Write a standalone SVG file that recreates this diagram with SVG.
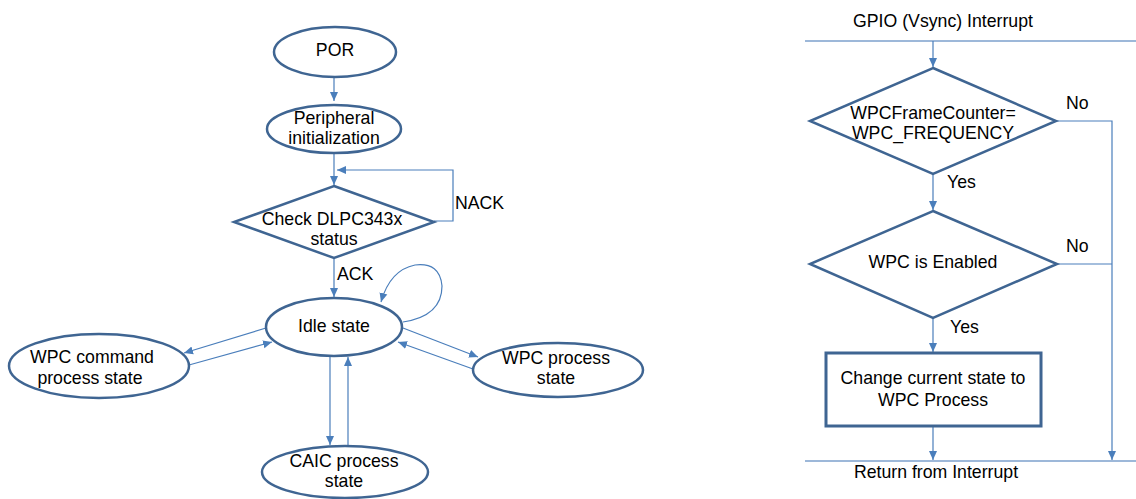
<svg xmlns="http://www.w3.org/2000/svg" width="1136" height="499" viewBox="0 0 1136 499">
<defs>
<marker id="ah" markerUnits="userSpaceOnUse" markerWidth="10" markerHeight="10" viewBox="0 0 10 10" refX="9" refY="5" orient="auto">
<path d="M0,1 L9,5 L0,9 Z" fill="#4a7ebb"/>
</marker>
<style>
.shape{fill:#ffffff;stroke:#3f6592;stroke-width:2.5}
.box{fill:#ffffff;stroke:#3f6592;stroke-width:3}
.con{fill:none;stroke:#4a7ebb;stroke-width:1.2}
.rail{fill:none;stroke:#7da0cc;stroke-width:1.5}
text{font-family:"Liberation Sans",Arial,sans-serif;font-size:17.7px;fill:#000000;text-anchor:middle;dominant-baseline:central}
.lbl{text-anchor:start}
</style>
</defs>
<rect width="1136" height="499" fill="#ffffff"/>

<g id="connectors">
<path class="con" d="M334,78 L334,101" marker-end="url(#ah)"/>
<path class="con" d="M334,153 L334,185" marker-end="url(#ah)"/>
<path class="con" d="M434,221 L453,221 L453,170 L337,170" marker-end="url(#ah)"/>
<path class="con" d="M334,258 L334,297" marker-end="url(#ah)"/>
<path class="con" d="M403,322 Q442,316 442,286 Q440,262 415,265 Q390,270 381,302" marker-end="url(#ah)"/>
<path class="con" d="M266,328 L184,353" marker-end="url(#ah)"/>
<path class="con" d="M189,365 L272,342" marker-end="url(#ah)"/>
<path class="con" d="M403,328 L478,357" marker-end="url(#ah)"/>
<path class="con" d="M473,369 L398,342" marker-end="url(#ah)"/>
<path class="con" d="M330,356 L330,445" marker-end="url(#ah)"/>
<path class="con" d="M348,446 L348,357" marker-end="url(#ah)"/>

<path class="rail" d="M805,41 L1136,41"/>
<path class="rail" d="M805,461 L1136,461"/>
<path class="con" d="M933,41 L933,67" marker-end="url(#ah)"/>
<path class="con" d="M933,174 L933,210" marker-end="url(#ah)"/>
<path class="con" d="M933,318 L933,352" marker-end="url(#ah)"/>
<path class="con" d="M933,426 L933,460" marker-end="url(#ah)"/>
<path class="con" d="M1056,121 L1112,121 L1112,460" marker-end="url(#ah)"/>
<path class="con" d="M1057,264 L1112,264"/>
</g>

<g id="labels">
<text class="lbl" x="455" y="203">NACK</text>
<text class="lbl" x="337" y="274">ACK</text>
<text x="943" y="21">GPIO (Vsync) Interrupt</text>
<text x="936" y="472">Return from Interrupt</text>
<text class="lbl" x="1066" y="103">No</text>
<text class="lbl" x="1066" y="246">No</text>
<text class="lbl" x="947" y="182">Yes</text>
<text class="lbl" x="950" y="327">Yes</text>
</g>

<g id="por">
<ellipse class="shape" cx="335" cy="52" rx="61" ry="25"/>
<text x="335" y="50">POR</text>
</g>

<g id="peripheral">
<ellipse class="shape" cx="334" cy="129" rx="67" ry="24"/>
<text x="334" y="118">Peripheral</text>
<text x="334" y="138">initialization</text>
</g>

<g id="check">
<polygon class="shape" points="334,186 434,222 334,258 234,222"/>
<text x="332" y="219">Check DLPC343x</text>
<text x="334" y="239">status</text>
</g>

<g id="idle">
<ellipse class="shape" cx="334" cy="327" rx="68" ry="29"/>
<text x="334" y="326">Idle state</text>
</g>

<g id="wpc-command">
<ellipse class="shape" cx="99" cy="366" rx="90" ry="32"/>
<text x="92" y="357">WPC command</text>
<text x="90" y="378">process state</text>
</g>

<g id="wpc-process">
<ellipse class="shape" cx="558" cy="370" rx="85" ry="27"/>
<text x="556" y="358">WPC process</text>
<text x="556" y="378">state</text>
</g>

<g id="caic">
<ellipse class="shape" cx="345" cy="472" rx="83" ry="26"/>
<text x="344" y="461">CAIC process</text>
<text x="344" y="481">state</text>
</g>

<g id="frame-counter">
<polygon class="shape" points="933,68 1056,121 933,174 810,121"/>
<text x="933" y="113">WPCFrameCounter=</text>
<text x="933" y="133">WPC_FREQUENCY</text>
</g>

<g id="wpc-enabled">
<polygon class="shape" points="933,211 1057,264 933,318 810,264"/>
<text x="933" y="262">WPC is Enabled</text>
</g>

<g id="change-state">
<rect class="box" x="826" y="353" width="215" height="73"/>
<text x="933" y="378">Change  current  state to</text>
<text x="933" y="400">WPC Process</text>
</g>
</svg>
